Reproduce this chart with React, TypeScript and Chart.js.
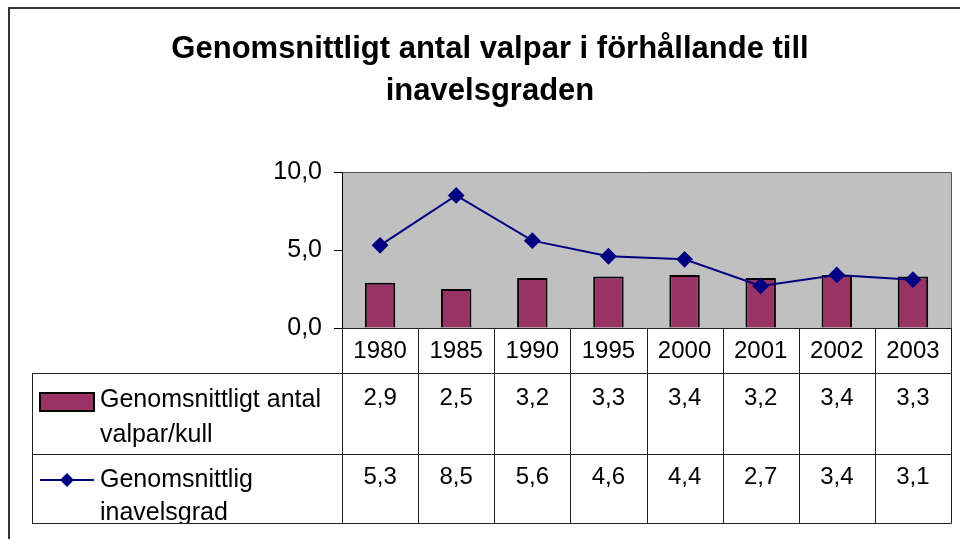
import React, { useEffect, useRef } from "react";
import { Chart, registerables } from "chart.js";

Chart.register(...registerables);

const titleLines = ["Genomsnittligt antal valpar i förhållande till", "inavelsgraden"];
const years = ["1980", "1985", "1990", "1995", "2000", "2001", "2002", "2003"];
const valparPerKull = [2.9, 2.5, 3.2, 3.3, 3.4, 3.2, 3.4, 3.3];
const inavelsgrad = [5.3, 8.5, 5.6, 4.6, 4.4, 2.7, 3.4, 3.1];
const seriesNameLines = [
  ["Genomsnittligt antal", "valpar/kull"],
  ["Genomsnittlig", "inavelsgrad"],
];
const yTicks = [0, 5, 10];

const BAR_COLOR = "#993366";
const LINE_COLOR = "#000080";
const FONT = '"Liberation Sans", Arial, sans-serif';

const fmt = (v: number) => v.toFixed(1).replace(".", ",");

const decorPlugin = {
  id: "decor",
  beforeDraw(chart: any) {
    const { ctx, chartArea: a, width, height } = chart;
    ctx.save();
    ctx.fillStyle = "#ffffff";
    ctx.fillRect(0, 0, width, height);
    // outer chart border
    ctx.strokeStyle = "#333333";
    ctx.lineWidth = 2;
    ctx.strokeRect(9, 8, width + 40, height + 40);
    // plot area
    ctx.fillStyle = "#C0C0C0";
    ctx.fillRect(a.left, a.top, a.right - a.left, a.bottom - a.top);
    ctx.strokeStyle = "#555555";
    ctx.lineWidth = 1;
    ctx.beginPath();
    ctx.moveTo(a.left, a.top + 0.5);
    ctx.lineTo(a.right + 0.5, a.top + 0.5);
    ctx.lineTo(a.right + 0.5, a.bottom);
    ctx.stroke();
    // title
    ctx.fillStyle = "#000";
    ctx.font = `bold 31px ${FONT}`;
    ctx.textAlign = "center";
    ctx.textBaseline = "alphabetic";
    titleLines.forEach((t, i) => ctx.fillText(t, 490, 58 + i * 42));
    ctx.restore();
  },
  afterDraw(chart: any) {
    const { ctx, chartArea: a } = chart;
    const xs = chart.scales.x;
    const n = years.length;
    const cw = (a.right - a.left) / n;
    const headerBottom = 373;
    const row1Bottom = 454;
    const tableBottom = 523;
    const tableLeft = 32;
    ctx.save();
    ctx.strokeStyle = "#222";
    ctx.lineWidth = 1;
    ctx.beginPath();
    // horizontal lines
    ctx.moveTo(a.left, a.bottom + 0.5);
    ctx.lineTo(a.right + 0.5, a.bottom + 0.5);
    [headerBottom, row1Bottom, tableBottom].forEach((y) => {
      ctx.moveTo(tableLeft, y + 0.5);
      ctx.lineTo(a.right + 0.5, y + 0.5);
    });
    // vertical lines
    for (let i = 0; i <= n; i++) {
      const x = Math.round(a.left + i * cw) + 0.5;
      ctx.moveTo(x, a.bottom);
      ctx.lineTo(x, tableBottom + 0.5);
    }
    ctx.moveTo(tableLeft + 0.5, headerBottom);
    ctx.lineTo(tableLeft + 0.5, tableBottom + 0.5);
    ctx.stroke();

    // texts
    ctx.fillStyle = "#000";
    ctx.textAlign = "center";
    ctx.textBaseline = "alphabetic";
    ctx.font = `24px ${FONT}`;
    years.forEach((y, i) => {
      const cx = xs.getPixelForValue(i);
      ctx.fillText(y, cx, 358);
      ctx.fillText(fmt(valparPerKull[i]), cx, 405);
      ctx.fillText(fmt(inavelsgrad[i]), cx, 484);
    });

    // legend keys
    ctx.fillStyle = BAR_COLOR;
    ctx.fillRect(40, 393, 54, 18);
    ctx.strokeStyle = "#000";
    ctx.lineWidth = 2;
    ctx.strokeRect(40, 393, 54, 18);
    ctx.strokeStyle = LINE_COLOR;
    ctx.lineWidth = 2;
    ctx.beginPath();
    ctx.moveTo(40, 480);
    ctx.lineTo(94, 480);
    ctx.stroke();
    ctx.fillStyle = LINE_COLOR;
    ctx.beginPath();
    ctx.moveTo(67, 473);
    ctx.lineTo(74, 480);
    ctx.lineTo(67, 487);
    ctx.lineTo(60, 480);
    ctx.closePath();
    ctx.fill();

    // legend labels
    ctx.fillStyle = "#000";
    ctx.textAlign = "left";
    ctx.font = `25px ${FONT}`;
    ctx.fillText(seriesNameLines[0][0], 100, 407);
    ctx.fillText(seriesNameLines[0][1], 100, 442);
    ctx.save();
    ctx.beginPath();
    ctx.rect(tableLeft, row1Bottom, a.right - tableLeft, tableBottom - row1Bottom);
    ctx.clip();
    ctx.fillText(seriesNameLines[1][0], 100, 487);
    ctx.fillText(seriesNameLines[1][1], 100, 520);
    ctx.restore();
    ctx.restore();
  },
};

export default function App() {
  const ref = useRef<HTMLCanvasElement | null>(null);
  useEffect(() => {
    if (!ref.current) return;
    const chart = new Chart(ref.current, {
      type: "bar",
      data: {
        labels: years,
        datasets: [
          {
            type: "line",
            label: seriesNameLines[1].join(" "),
            data: inavelsgrad,
            borderColor: LINE_COLOR,
            backgroundColor: LINE_COLOR,
            borderWidth: 2,
            pointStyle: "rectRot",
            pointRadius: 7,
            pointBackgroundColor: LINE_COLOR,
            pointBorderColor: LINE_COLOR,
            tension: 0,
            order: 0,
          } as any,
          {
            type: "bar",
            label: seriesNameLines[0].join(" "),
            data: valparPerKull,
            backgroundColor: BAR_COLOR,
            borderColor: "#000",
            borderWidth: 2,
            categoryPercentage: 1,
            barPercentage: 0.4,
            order: 1,
          } as any,
        ],
      },
      options: {
        responsive: false,
        animation: false,
        devicePixelRatio: 1,
        layout: { padding: { left: 0, right: 8, top: 172, bottom: 211 } },
        plugins: {
          legend: { display: false },
          title: { display: false },
          tooltip: { enabled: false },
        },
        scales: {
          x: { type: "category", display: false, offset: true },
          y: {
            min: 0,
            max: 10,
            afterFit: (s: any) => {
              s.width = 342;
            },
            afterBuildTicks: (s: any) => {
              s.ticks = yTicks.map((v) => ({ value: v }));
            },
            ticks: {
              padding: 12,
              color: "#000",
              font: { family: FONT, size: 25 },
              callback: (v: any) => fmt(Number(v)),
            },
            grid: {
              drawOnChartArea: false,
              drawTicks: true,
              tickLength: 8,
              color: "#000",
              lineWidth: 1,
            },
            border: { display: true, color: "#000", width: 1 },
          },
        },
      },
      plugins: [decorPlugin],
    });
    return () => chart.destroy();
  }, []);
  return (
    <div style={{ position: "fixed", left: 0, top: 0, width: 960, height: 539 }}>
      <canvas ref={ref} width={960} height={539} style={{ width: 960, height: 539 }} />
    </div>
  );
}
